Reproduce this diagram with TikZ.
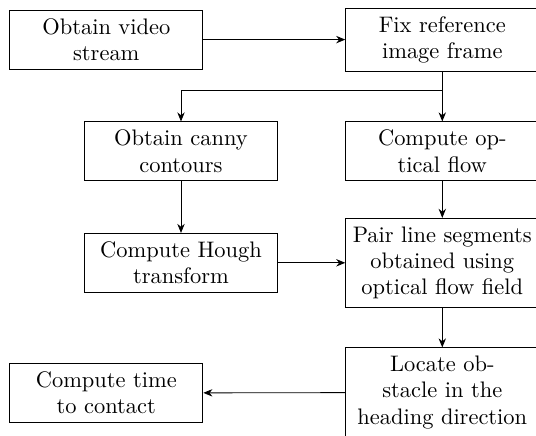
\documentclass[tikz,border=0pt]{standalone}
\usetikzlibrary{arrows.meta}
\begin{document}
\begin{tikzpicture}[x=0.4608pt,y=-0.4608pt,
  flowbox/.style={draw, rectangle, text width=84.4pt, align=center, inner xsep=2.3pt, inner ysep=3.8pt,
    font=\fontsize{10.35pt}{12.1pt}\selectfont},
  conn/.style={-{Stealth[length=4.2pt,width=3.4pt]}}]
\useasboundingbox (0,0) rectangle (536,436);
\clip (0,0) rectangle (536,436);
\node[flowbox] (A) at (106.3,39.6) {Obtain video\\stream};
\node[flowbox] (B) at (442.3,39.6) {Fix reference\\image frame};
\node[flowbox] (C) at (181,151.3) {Obtain canny\\contours};
\node[flowbox] (D) at (442.3,151.3) {Compute op-\\tical flow};
\node[flowbox] (E) at (181,262.8) {Compute Hough\\transform};
\node[flowbox] (F) at (442.3,262.8) {Pair line segments\\obtained using\\optical flow field};
\node[flowbox] (G) at (442.3,392.5) {Locate ob-\\stacle in the\\heading direction};
\node[flowbox] (H) at (106.3,393) {Compute time\\to contact};
\coordinate (br) at (442.3,90.7);
\draw[conn] (A) -- (B);
\draw[conn] (B.south) -- (br) -- (D.north);
\draw[conn] (br) -| (C.north);
\draw[conn] (C) -- (E);
\draw[conn] (D) -- (F);
\draw[conn] (E) -- (F);
\draw[conn] (F) -- (G);
\draw[conn] (G) -- (H);
\end{tikzpicture}
\end{document}
